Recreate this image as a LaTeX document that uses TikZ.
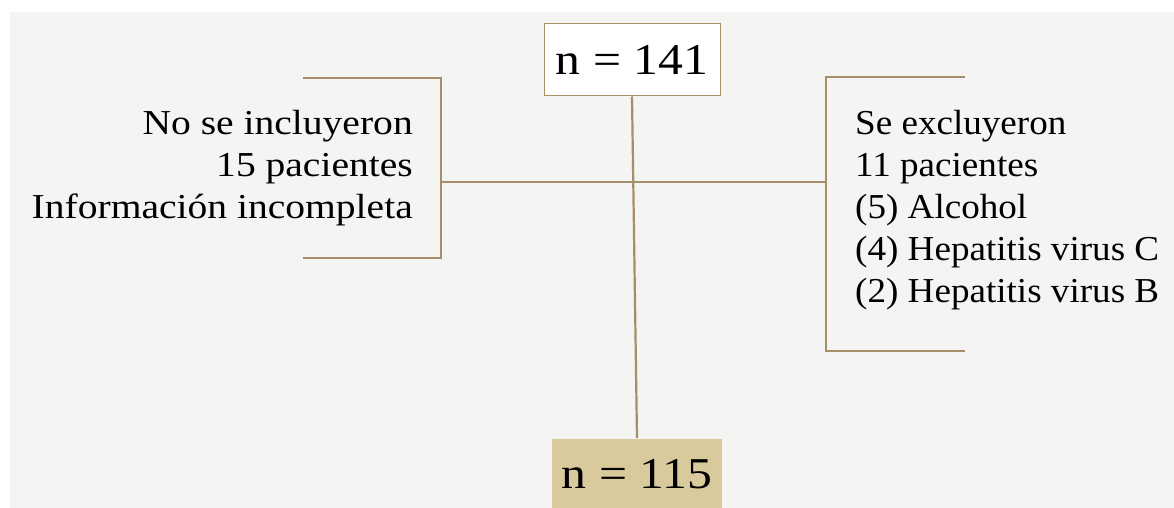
\documentclass[tikz,border=0pt]{standalone}
\usepackage{fontspec}
\setmainfont[FakeStretch=1.13]{Liberation Serif}
\newfontfamily\rightfont[FakeStretch=1.06]{Liberation Serif}
\definecolor{tan}{HTML}{A58F68}
\definecolor{tanfill}{HTML}{D9CA9E}
\definecolor{paper}{HTML}{F4F4F2}
\begin{document}
\begin{tikzpicture}[x=1pt,y=-1pt,
  conn/.style={draw=tan,line width=2.2pt},
  nbox/.style={draw=tan,line width=1pt,inner sep=0pt,font=\fontsize{44}{52}\selectfont},
  side/.style={inner sep=0pt,font=\fontsize{35}{42}\selectfont}]
\useasboundingbox (0,0) rectangle (1174,508);
\clip (0,0) rectangle (1174,508);
\fill[white] (0,0) rectangle (1174,508);
\fill[paper] (10,12) rectangle (1174,508);
\node[nbox,fill=white,minimum width=176pt,minimum height=72pt] (top) at (632,60) {n = 141};
\node[nbox,fill=tanfill,draw=none,minimum width=170pt,minimum height=72pt,anchor=north] (bot) at (637,438) {\raisebox{2pt}{n = 115}};
\coordinate (lm) at (441,182);
\coordinate (rm) at (826,182);
\coordinate (lt) at (441,78);
\coordinate (lb) at (441,258);
\coordinate (lta) at (303,78);
\coordinate (lba) at (303,258);
\coordinate (rt) at (826,77);
\coordinate (rb) at (826,351);
\coordinate (rta) at (965,77);
\coordinate (rba) at (965,351);
\draw[conn] (top.south) -- (bot.north);
\draw[conn] (lm) -- (rm);
\draw[conn] (lta) -- (lt) -- (lb) -- (lba);
\draw[conn] (rta) -- (rt) -- (rb) -- (rba);
\node[side,align=right,anchor=east] (ltext) at (413,168) {No se incluyeron\\15 pacientes\\Información incompleta};
\node[side,align=left,anchor=west,font=\fontsize{35}{42}\rightfont] (rtext) at (855,210) {Se excluyeron\\11 pacientes\\(5) Alcohol\\(4) Hepatitis virus C\\(2) Hepatitis virus B};
\end{tikzpicture}
\end{document}
